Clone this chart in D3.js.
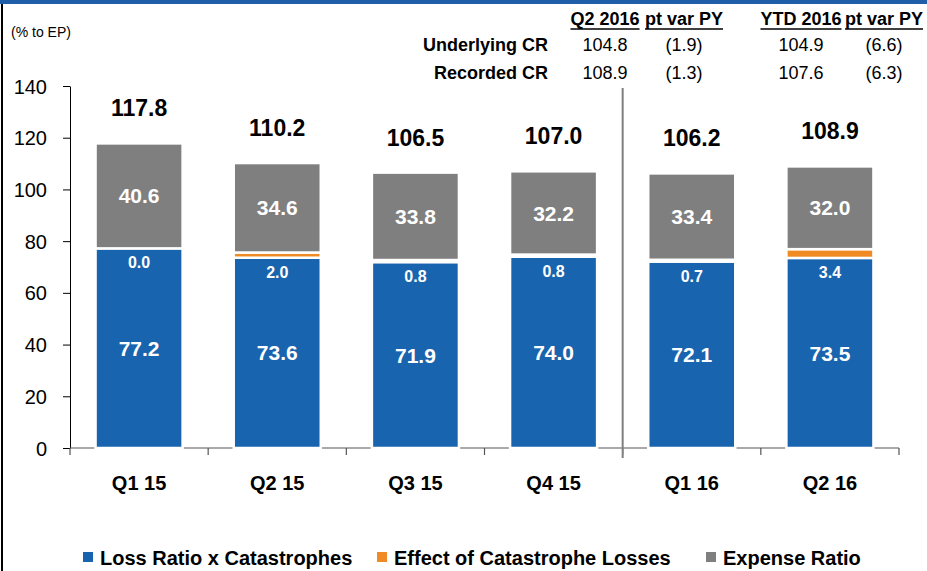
<!DOCTYPE html>
<html>
<head>
<meta charset="utf-8">
<script src="https://cdn.jsdelivr.net/npm/d3@7"></script>
<style>
  html, body { margin: 0; padding: 0; background: #fff; }
  svg { display: block; font-family: "Liberation Sans", Arial, sans-serif; }
</style>
</head>
<body>
<svg width="927" height="571"></svg>
<script>
// chart data
const categories = ["Q1 15", "Q2 15", "Q3 15", "Q4 15", "Q1 16", "Q2 16"];
const lossRatio = [77.2, 73.6, 71.9, 74.0, 72.1, 73.5];
const catEffect = [0.0, 2.0, 0.8, 0.8, 0.7, 3.4];
const expenseRatio = [40.6, 34.6, 33.8, 32.2, 33.4, 32.0];
const totals = [117.8, 110.2, 106.5, 107.0, 106.2, 108.9];
const yTicks = [0, 20, 40, 60, 80, 100, 120, 140];
const seriesNames = ["Loss Ratio x Catastrophes", "Effect of Catastrophe Losses", "Expense Ratio"];

// summary table top right
const tableHeaders = ["Q2 2016", "pt var PY", "YTD 2016", "pt var PY"];
const tableRows = ["Underlying CR", "Recorded CR"];
const tableValues = [
  ["104.8", "(1.9)", "104.9", "(6.6)"],
  ["108.9", "(1.3)", "107.6", "(6.3)"]
];

const colors = ["#1964ae", "#f08a24", "#7f7f7f"];

const svg = d3.select("svg");

// frame: blue strip on top, black line on the left
svg.append("rect").attr("x", 0).attr("y", 0).attr("width", 927).attr("height", 4).attr("fill", "#1f5ea8");
svg.append("line").attr("x1", 2).attr("x2", 2).attr("y1", 4).attr("y2", 571)
    .attr("stroke", "#000").attr("stroke-width", 2);

const x = d3.scaleBand()
    .domain(categories)
    .range([70, 899])
    .paddingInner(0.37)
    .paddingOuter(0.185);

const y = d3.scaleLinear()
    .domain([0, 140])
    .range([448, 86]);

// y axis
const yAxis = svg.append("g")
    .attr("transform", "translate(70,0)")
    .call(d3.axisLeft(y).tickValues(yTicks).tickSize(7).tickSizeOuter(0).tickPadding(16));
yAxis.select(".domain").attr("stroke", "#000");
yAxis.selectAll(".tick line").attr("stroke", "#000");
yAxis.selectAll("text")
    .attr("font-size", 20)
    .attr("font-family", "'Liberation Sans', Arial, sans-serif")
    .attr("fill", "#000")
    .attr("dy", "0.35em");

svg.append("text")
    .attr("x", 11).attr("y", 37)
    .attr("font-size", 14)
    .text("(% to EP)");

// stacked segments
const rows = categories.map((c, i) => ({
  cat: c, loss: lossRatio[i], cat_eff: catEffect[i], exp: expenseRatio[i]
}));
const keys = ["loss", "cat_eff", "exp"];
const stacked = d3.stack().keys(keys)(rows);

const step = x.step();
const boundaries = d3.range(categories.length + 1).map(i => 70 + i * step);

// x axis line and ticks
svg.append("line")
    .attr("x1", 70).attr("x2", 899).attr("y1", y(0)).attr("y2", y(0))
    .attr("stroke", "#555").attr("stroke-width", 1.2);
svg.append("g").selectAll("line")
    .data(boundaries)
    .join("line")
    .attr("x1", d => d).attr("x2", d => d)
    .attr("y1", y(0)).attr("y2", y(0) + 7)
    .attr("stroke", "#555").attr("stroke-width", 1.2);

svg.append("g").selectAll("g")
    .data(stacked)
    .join("g")
    .attr("fill", (d, i) => colors[i])
    .selectAll("rect")
    .data(d => d)
    .join("rect")
    .attr("x", d => x(d.data.cat))
    .attr("width", x.bandwidth())
    .attr("y", d => y(d[1]))
    .attr("height", d => Math.max(0, y(d[0]) - y(d[1])))
    .attr("stroke", "#fff")
    .attr("stroke-width", 2.5);

// separator between 2015 and 2016
svg.append("line")
    .attr("x1", boundaries[4]).attr("x2", boundaries[4])
    .attr("y1", 88).attr("y2", 458)
    .attr("stroke", "#7f7f7f").attr("stroke-width", 2);

// labels in the bars
const lbl = svg.append("g").attr("font-weight", "bold").attr("text-anchor", "middle");

lbl.selectAll(".loss-lbl")
    .data(stacked[0])
    .join("text")
    .attr("class", "loss-lbl")
    .attr("x", d => x(d.data.cat) + x.bandwidth() / 2)
    .attr("y", d => (y(d[0]) + y(d[1])) / 2)
    .attr("dy", "0.36em")
    .attr("font-size", 21)
    .attr("fill", "#fff")
    .text(d => d.data.loss.toFixed(1));

lbl.selectAll(".cat-lbl")
    .data(stacked[1])
    .join("text")
    .attr("class", "cat-lbl")
    .attr("x", d => x(d.data.cat) + x.bandwidth() / 2)
    .attr("y", d => y(d[0]) + 20)
    .attr("font-size", 16)
    .attr("fill", "#fff")
    .text(d => d.data.cat_eff.toFixed(1));

lbl.selectAll(".exp-lbl")
    .data(stacked[2])
    .join("text")
    .attr("class", "exp-lbl")
    .attr("x", d => x(d.data.cat) + x.bandwidth() / 2)
    .attr("y", d => (y(d[0]) + y(d[1])) / 2)
    .attr("dy", "0.36em")
    .attr("font-size", 21)
    .attr("fill", "#fff")
    .text(d => d.data.exp.toFixed(1));

lbl.selectAll(".tot-lbl")
    .data(categories)
    .join("text")
    .attr("class", "tot-lbl")
    .attr("x", d => x(d) + x.bandwidth() / 2)
    .attr("y", (d, i) => y(totals[i]) - 27)
    .attr("font-size", 23)
    .attr("fill", "#000")
    .text((d, i) => totals[i].toFixed(1));

// category labels
lbl.selectAll(".x-lbl")
    .data(categories)
    .join("text")
    .attr("class", "x-lbl")
    .attr("x", d => x(d) + x.bandwidth() / 2)
    .attr("y", 490)
    .attr("font-size", 20)
    .attr("fill", "#000")
    .text(d => d);

// table
const colX = [605, 684, 801, 884];
const table = svg.append("g").attr("font-size", 18);

const hdr = table.selectAll(".hdr")
    .data(tableHeaders)
    .join("text")
    .attr("class", "hdr")
    .attr("x", (d, i) => colX[i])
    .attr("y", 25)
    .attr("text-anchor", "middle")
    .attr("font-weight", "bold")
    .text(d => d);
hdr.each(function() {
  const b = this.getBBox();
  table.append("line")
      .attr("x1", b.x).attr("x2", b.x + b.width)
      .attr("y1", 29).attr("y2", 29)
      .attr("stroke", "#000").attr("stroke-width", 1.3);
});

table.selectAll(".rowlbl")
    .data(tableRows)
    .join("text")
    .attr("class", "rowlbl")
    .attr("x", 548)
    .attr("y", (d, i) => 51 + i * 28)
    .attr("text-anchor", "end")
    .attr("font-weight", "bold")
    .text(d => d);

tableValues.forEach((row, r) => {
  table.selectAll(".val" + r)
      .data(row)
      .join("text")
      .attr("class", "val" + r)
      .attr("x", (d, i) => colX[i])
      .attr("y", 51 + r * 28)
      .attr("text-anchor", "middle")
      .text(d => d);
});

// legend
const legendX = [83, 377, 706];
const legend = svg.append("g").selectAll("g")
    .data(seriesNames)
    .join("g")
    .attr("transform", (d, i) => `translate(${legendX[i]},552)`);
legend.append("rect")
    .attr("width", 10).attr("height", 10)
    .attr("fill", (d, i) => colors[i]);
legend.append("text")
    .attr("x", 17).attr("y", 13)
    .attr("font-size", 20)
    .attr("font-weight", "bold")
    .text(d => d);
</script>
</body>
</html>
